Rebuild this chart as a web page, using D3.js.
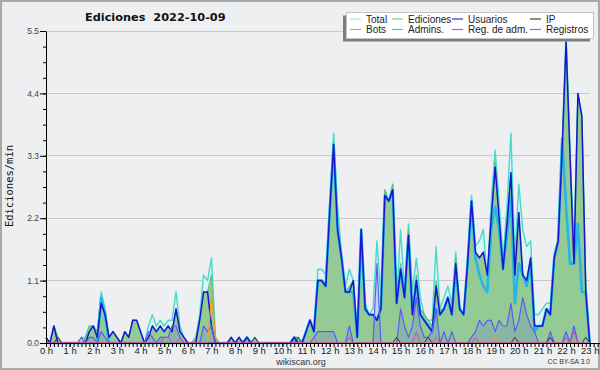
<!DOCTYPE html>
<html><head><meta charset="utf-8">
<script src="https://cdn.jsdelivr.net/npm/d3@7"></script>
<style>body{margin:0;background:#fff}svg{display:block}</style>
</head><body>
<svg id="c" width="600" height="370"></svg>
<script>
// 10-minute slots from 0h00 to 23h00
const hourLabels = d3.range(24).map(h => h + " h");
const yTicks = [0, 1.1, 2.2, 3.3, 4.4, 5.5];
const legendNames = ["Total", "Ediciones", "Usuarios", "IP", "Bots", "Admins.", "Reg. de adm.", "Registros"];

const total = [
 0.1,0,0.3,0.1,0,0,0,0,0,0.1,0.1,0.3,
 0.3,0.2,0.9,0.6,0.1,0.2,0.1,0,0.2,0.1,0.4,0.4,
 0.2,0,0.3,0.5,0.3,0.4,0.3,0.4,0.4,0.9,0.3,0.1,
 0,0,0.1,0.5,1.2,1.1,1.5,0.1,0,0,0,0.1,
 0,0.1,0,0.1,0,0.1,0,0,0,0,0,0,
 0,0,0,0.1,0.1,0,0.2,0.4,0.2,1.3,1.3,1.2,
 2.5,3.7,2.4,1.6,1.0,1.3,1.1,0.2,2.0,0.7,0.5,0.6,
 1.8,0.8,2.7,2.5,2.8,0.8,2.0,0.9,2.1,0.9,1.5,0.8,
 0.5,0.4,0.4,1.7,0.6,0.8,1.0,0.7,1.6,0.6,0.5,1.5,
 2.6,1.7,1.8,2.0,1.1,2.5,3.4,2.5,1.5,2.4,3.7,1.5,
 2.8,2.0,1.7,1.8,0.5,0.5,0.6,0.7,0.7,1.6,1.8,3.5,
 5.5,3.4,1.7,4.4,4.0,1.0,0
];
const ediciones = [
 0.1,0,0.3,0.1,0,0,0,0,0,0,0.1,0.3,
 0.3,0.2,0.8,0.5,0.1,0.2,0.1,0,0.2,0.1,0.4,0.4,
 0.2,0,0.1,0.3,0.2,0.3,0.2,0.3,0.2,0.6,0.2,0.1,
 0,0,0.1,0.4,0.9,0.9,1.2,0.1,0,0,0,0.1,
 0,0.1,0,0.1,0,0.1,0,0,0,0,0,0,
 0,0,0,0.1,0.1,0,0.2,0.4,0.2,1.1,1.1,1.0,
 2.3,3.5,2.1,1.5,0.9,1.0,1.1,0.2,2.0,0.6,0.5,0.5,
 0.4,0.7,2.7,2.5,2.8,0.8,1.4,0.8,2.0,0.6,1.2,0.6,
 0.5,0.4,0.3,1.1,0.6,0.6,0.8,0.6,1.5,0.6,0.5,1.4,
 2.5,1.6,1.5,1.6,1.2,2.2,3.2,2.2,1.3,2.1,3.0,1.3,
 2.3,1.2,1.1,1.5,0.3,0.3,0.3,0.6,0.6,1.5,1.8,3.4,
 5.3,3.3,1.4,4.4,4.0,1.0,0
];
const usuarios = [
 0.1,0,0.3,0,0,0,0,0,0,0,0,0.2,
 0.3,0.1,0.7,0.5,0.1,0.2,0.1,0,0.2,0.1,0.4,0.4,
 0.2,0,0.1,0.3,0.2,0.3,0.2,0.3,0.2,0.6,0.2,0.1,
 0,0,0,0.4,0.9,0.9,0.3,0,0,0,0,0.1,
 0,0.1,0,0.1,0,0,0,0,0,0,0,0,
 0,0,0,0.1,0,0,0.2,0.4,0.2,1.1,1.1,1.0,
 2.3,3.5,2.0,1.5,0.9,0.9,1.1,0.1,2.0,0.6,0.5,0.5,
 0.4,0.6,2.6,2.5,2.7,0.7,1.3,0.8,1.9,0.5,1.1,0.5,
 0.4,0.3,0.2,1.0,0.5,0.6,0.8,0.5,1.4,0.6,0.5,1.4,
 2.5,1.6,1.5,1.6,1.2,2.2,3.1,2.2,1.3,2.1,3.0,1.2,
 2.3,1.2,1.1,1.5,0.3,0.3,0.3,0.6,0.5,1.5,1.8,3.4,
 5.3,3.3,1.4,4.4,4.0,0.9,0
];
const ip = [
 0,0,0,0.1,0,0,0,0,0,0,0,0,
 0,0,0,0,0,0,0,0,0,0,0,0,
 0,0,0,0,0,0,0,0,0,0,0,0,
 0,0,0,0,0,0,0,0,0,0,0,0,
 0,0,0,0,0,0.1,0,0,0,0,0,0,
 0,0,0,0,0.1,0,0,0,0,0,0,0,
 0,0,0,0,0,0,0,0,0,0,0,0,
 0,0,0,0,0,0.1,0,0,0,0,0,0,
 0,0.1,0,0,0,0,0,0,0,0,0,0,
 0,0,0,0,0,0,0,0,0,0,0,0.1,
 0,0,0,0,0,0,0,0,0.1,0,0,0,
 0,0,0,0,0,0.1,0
];
const bots = [
 0,0,0,0,0,0,0,0,0,0,0,0,
 0,0,0,0,0,0,0,0,0,0,0,0,
 0,0,0,0,0,0,0,0,0,0,0,0,
 0,0,0,0,0,0,0.8,0.1,0,0,0,0,
 0,0,0,0,0,0,0,0,0,0,0,0,
 0,0,0,0,0,0,0,0,0,0,0,0,
 0,0,0,0,0,0,0,0,0,0,0,0,
 0,0,0,0,0,0,0,0,0,0,0,0,
 0,0,0,0,0,0,0,0,0,0,0,0,
 0,0,0,0,0,0,0.1,0,0,0,0,0,
 0,0,0,0,0,0,0,0,0,0,0,0,
 0,0,0,0,0,0,0
];
const admins = [
 0,0,0,0,0,0,0,0,0,0,0,0,
 0,0,0.8,0.5,0,0,0,0,0,0,0,0,
 0,0,0,0,0,0,0,0,0,0,0,0,
 0,0,0,0,0,0,0,0,0,0,0,0,
 0,0,0,0.1,0,0,0,0,0,0,0,0,
 0,0,0,0.1,0,0,0.2,0.4,0.2,1.1,1.1,1.0,
 2.3,3.5,2.0,1.5,0.9,0.9,0.9,0.1,2.0,0.6,0.5,0.5,
 0.4,0.6,2.6,2.5,2.7,0.7,1.3,0.8,1.9,0.5,1.1,0.5,
 0.4,0.3,0.2,0.6,0.5,0.6,0.8,0.5,1.3,0.6,0.5,1.4,
 2.5,1.5,1.2,1.0,0.9,2.0,2.4,2.0,1.3,1.9,2.6,0.7,
 1.4,1.2,1.0,1.4,0.2,0.3,0.3,0.6,0.5,1.5,1.8,3.6,
 2.4,1.4,1.4,2.1,0.9,0.9,0
];
const regAdm = [
 0,0,0,0,0,0,0,0,0,0,0,0,
 0,0,0,0,0,0,0,0,0,0,0,0,
 0,0,0,0,0,0,0.1,0.1,0,0,0.1,0,
 0,0,0,0,0,0,0,0,0,0,0,0,
 0,0,0,0,0,0,0,0,0,0,0,0,
 0,0,0,0,0,0,0,0,0.1,0,0,0,
 0,0,0,0,0,0.1,0,0,0,0,0,0,
 0,0,0,0,0,0,0,0,0,0,0.2,0,
 0,0,0,0.1,0,0,0,0,0,0,0,0,
 0,0.1,0,0,0,0,0,0,0,0,0,0,
 0,0,0,0,0,0,0,0,0,0,0,0,
 0.1,0,0.2,0,0,0,0
];
const registros = [
 0,0,0,0,0,0,0,0,0,0.1,0,0.1,
 0.1,0,0.2,0.1,0,0,0,0,0,0,0,0,
 0,0,0.2,0.1,0,0.1,0.1,0.1,0.3,0.3,0.1,0,
 0,0,0,0,0.3,0.2,0.3,0,0,0,0,0,
 0,0,0,0,0,0,0,0,0,0,0,0,
 0,0,0,0,0,0,0,0,0.1,0.2,0.2,0.2,
 0.2,0.2,0,0,0,0.3,0,0,0,0,0,0,
 1.4,0,0,0,0,0,0.6,0.3,0.1,0.3,0.8,0.3,
 0.1,0.1,0.2,0.6,0,0.2,0,0.2,0,0,0,0,
 0.1,0.2,0.4,0.3,0.4,0.4,0.2,0.4,0.3,0.3,0.7,0.2,
 0.4,0.8,0.5,0.3,0.2,0,0,0,0.2,0,0,0,
 0.2,0,0.3,0,0,0,0
];

const C = {
  totalFill: "#dcf3ef", total: "#45dacd", edFill: "#94cb94", ed: "#6cbd6c",
  users: "#1616d2", ip: "#333333", bots: "#f0a030", admins: "#26b6e6",
  regAdm: "#d040e0", reg: "#5c5cf0", regFill: "rgba(90,90,240,0.18)"
};
const legendColors = ["#a8e6de", "#80cc80", "#3434e0", "#404040", "#f0a040", "#40c8e0", "#d050e0", "#7878f0"];

const svg = d3.select("#c");
svg.append("rect").attr("x", 1).attr("y", 1).attr("width", 598).attr("height", 368)
  .attr("fill", "#eeeff1").attr("stroke", "#a9a9a9").attr("stroke-width", 2);

const x = d3.scaleLinear().domain([0, 144]).range([46, 46 + 144 * 3.94]);
const y = d3.scaleLinear().domain([0, 5.5]).range([343, 31]);
const lastSlot = total.length - 1;

// grid
svg.append("g").selectAll("line").data(yTicks.slice(1)).join("line")
  .attr("x1", x(0)).attr("x2", x(lastSlot)).attr("y1", d => y(d)).attr("y2", d => y(d))
  .attr("stroke", "#c9c9c9").attr("stroke-width", 1).attr("shape-rendering", "crispEdges");

const areaGen = d3.area().x((d, i) => x(i)).y0(y(0)).y1(d => y(d));
const lineGen = d3.line().x((d, i) => x(i)).y(d => y(d));

const g = svg.append("g");
g.append("path").attr("d", areaGen(total)).attr("fill", C.totalFill);
g.append("path").attr("d", areaGen(ediciones)).attr("fill", C.edFill);
g.append("path").attr("d", areaGen(registros)).attr("fill", C.regFill);

function drawLine(vals, color, w, op) {
  g.append("path").attr("d", lineGen(vals)).attr("fill", "none")
    .attr("stroke", color).attr("stroke-width", w).attr("stroke-linejoin", "round")
    .attr("stroke-opacity", op || 1);
}
drawLine(total, C.total, 1.4);
drawLine(ediciones, C.ed, 1.1);
drawLine(admins, C.admins, 2.6);
drawLine(usuarios, C.users, 1.5);
drawLine(registros, C.reg, 1.2);
drawLine(ip, C.ip, 1);
drawLine(bots, C.bots, 1.2);
drawLine(regAdm, C.regAdm, 1);

// axes
const fontTick = "Liberation Sans, Arial, sans-serif";
const yMinor = d3.axisLeft(y).tickValues(d3.range(0, 5.5001, 0.275)).tickSize(3).tickFormat("").tickSizeOuter(0);
svg.append("g").attr("transform", "translate(46,0)").call(yMinor).call(s => s.select(".domain").remove());
const yAxis = d3.axisLeft(y).tickValues(yTicks).tickFormat(d3.format(".1f")).tickSize(6).tickPadding(1).tickSizeOuter(0);
const gy = svg.append("g").attr("transform", "translate(46,0)").call(yAxis);
gy.selectAll("text").attr("font-family", fontTick).attr("font-size", 8.5).attr("fill", "#444");
gy.select(".domain").attr("stroke", "#000");

const xMinor = d3.axisBottom(x).tickValues(d3.range(0, 141)).tickSize(4).tickFormat("").tickSizeOuter(0);
const gxm = svg.append("g").attr("transform", "translate(0,343)").call(xMinor);
gxm.select(".domain").attr("stroke", "#000");
const xMajor = d3.axisBottom(x).tickValues(d3.range(24).map(h => h * 6))
  .tickFormat(d => hourLabels[d / 6]).tickSize(4).tickPadding(0).tickSizeOuter(0);
const gx = svg.append("g").attr("transform", "translate(0,343)").call(xMajor);
gx.select(".domain").remove();
gx.selectAll("text").attr("font-family", fontTick).attr("font-size", 9.5).attr("fill", "#222");

// title and labels
svg.append("text").attr("x", 85).attr("y", 20.5).style("white-space", "pre")
  .attr("font-family", "DejaVu Sans, sans-serif").attr("font-weight", "bold").attr("font-size", 11.3)
  .attr("fill", "#111").text("Ediciones  2022-10-09");
svg.append("text").attr("transform", "translate(13,186) rotate(-90)").attr("text-anchor", "middle")
  .attr("font-family", "DejaVu Sans Mono, monospace").attr("font-size", 10.5).attr("fill", "#111")
  .text("Ediciones/min");
svg.append("text").attr("x", 301).attr("y", 365).attr("text-anchor", "middle")
  .attr("font-family", fontTick).attr("font-size", 9).attr("fill", "#333").text("wikiscan.org");
svg.append("text").attr("x", 590).attr("y", 364).attr("text-anchor", "end")
  .attr("font-family", fontTick).attr("font-size", 6.8).attr("fill", "#333").text("CC BY-SA 3.0");

// legend
const lg = svg.append("g");
lg.append("rect").attr("x", 343).attr("y", 15.5).attr("width", 247).attr("height", 26).attr("fill", "#7d7d7d");
lg.append("rect").attr("x", 346.5).attr("y", 12.5).attr("width", 247).attr("height", 26)
  .attr("fill", "#ffffff").attr("stroke", "#c4c4c4");
const colX = [366, 408, 468, 546];
const rowY = [19, 29.5];
const items = lg.selectAll("g.item").data(legendNames).join("g").attr("class", "item")
  .attr("transform", (d, i) => `translate(${colX[i % 4]},${rowY[Math.floor(i / 4)]})`);
items.append("line").attr("x1", -16).attr("x2", -5).attr("y1", 0).attr("y2", 0)
  .attr("stroke", (d, i) => legendColors[i]).attr("stroke-width", 1.2);
items.append("text").attr("x", 0).attr("y", 3.6).attr("font-family", fontTick).attr("font-size", 10)
  .attr("fill", "#222").text(d => d);
</script>
</body></html>
